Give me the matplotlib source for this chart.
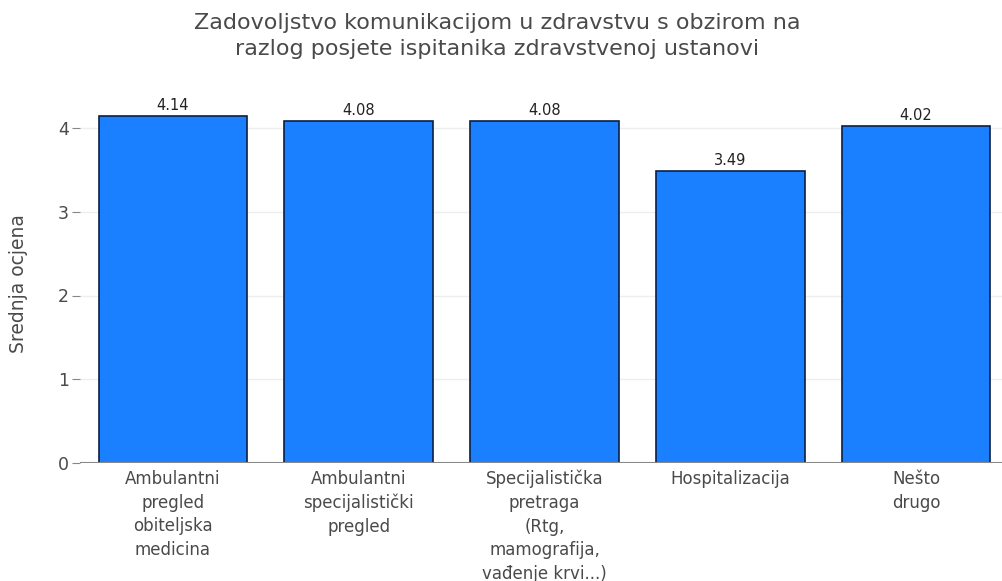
import numpy as np
import matplotlib.pyplot as plt

categories = [
    "Ambulantni\npregled\nobiteljska\nmedicina",
    "Ambulantni\nspecijalistički\npregled",
    "Specijalistička\npretraga\n(Rtg,\nmamografija,\nvađenje krvi...)",
    "Hospitalizacija",
    "Nešto\ndrugo",
]
values = [4.14, 4.08, 4.08, 3.49, 4.02]
value_labels = ["4.14", "4.08", "4.08", "3.49", "4.02"]

W, H = 1003, 581
fig = plt.figure(figsize=(W / 100, H / 100), dpi=100, facecolor="white")
left, right, bottom, top = 80, 1009, 463, 94
ax = fig.add_axes([left / W, (H - bottom) / H, (right - left) / W, (bottom - top) / H])

text_col = "#4a4a4a"
x = np.arange(len(categories))
ax.bar(x, values, width=0.8, color="#1a80ff", edgecolor="#0b1f44", linewidth=1.2, zorder=3)
for xi, v, lab in zip(x, values, value_labels):
    ax.text(xi, v + 0.035, lab, ha="center", va="bottom", fontsize=10.5, color="#222222")

ax.set_xlim(-0.5, 4.5)
ax.set_ylim(0, (bottom - top) / 83.75)
ax.set_yticks([0, 1, 2, 3, 4])
ax.set_xticks(x)
ax.set_xticklabels(categories, fontsize=12, color=text_col, linespacing=1.4)
ax.tick_params(axis="x", length=0, pad=5)
ax.tick_params(axis="y", length=6, color="#888888", labelsize=12.5, labelcolor=text_col, pad=2)
ax.grid(axis="y", color="#eeeeee", linewidth=1, zorder=0)
ax.axhline(0, color="#888888", linewidth=1.5, zorder=4)
for s in ax.spines.values():
    s.set_visible(False)

fig.text(19 / W, 1 - 284 / H, "Srednja ocjena", rotation=90, ha="center", va="center",
         fontsize=13.5, color=text_col)
fig.text(497 / W, 1 - 36 / H,
         "Zadovoljstvo komunikacijom u zdravstvu s obzirom na\nrazlog posjete ispitanika zdravstvenoj ustanovi",
         ha="center", va="center", fontsize=16, color=text_col, linespacing=1.35)

fig.savefig("out.png", dpi=100, facecolor="white")
